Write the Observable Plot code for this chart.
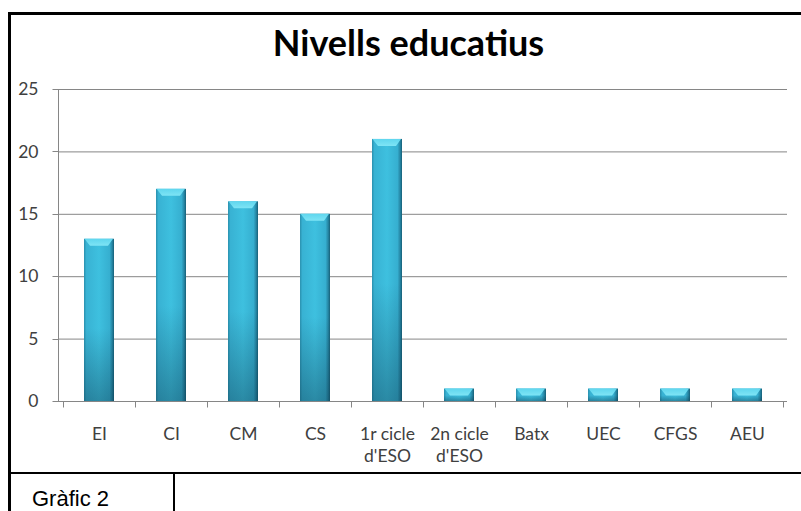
<!DOCTYPE html>
<html>
<head>
<meta charset="utf-8">
<script src="https://cdn.jsdelivr.net/npm/d3@7"></script>
<script src="https://cdn.jsdelivr.net/npm/@observablehq/plot@0.6"></script>
<style>
  body { margin: 0; background: #fff; }
  #wrap { position: relative; width: 801px; height: 511px; overflow: hidden; background: #fff; }
  #frame { position: absolute; left: 8px; top: 12px; width: 830px; height: 462px; box-sizing: border-box;
           border-left: 3px solid #000; border-top: 3px solid #000; border-bottom: 2px solid #000; }
  #capbox { position: absolute; left: 8px; top: 472px; width: 167px; height: 60px; box-sizing: border-box;
            border-left: 3px solid #000; border-right: 2px solid #000; }
  #caption { position: absolute; left: 32px; top: 488px; font: 22px "Liberation Sans", Arial, sans-serif; color: #000; line-height: 1; }
  #title { position: absolute; left: 8px; width: 801px; top: 24px; text-align: center;
           font: 700 36px Lato, "Open Sans", sans-serif; color: #000; line-height: 1; }
  #chart { position: absolute; left: 0; top: 0; }
</style>
</head>
<body>
<svg width="0" height="0" style="position:absolute">
  <defs>
    <linearGradient id="barH" x1="0" x2="1" y1="0" y2="0">
      <stop offset="0" stop-color="#2a90ae"/>
      <stop offset="0.08" stop-color="#38b2d3"/>
      <stop offset="0.5" stop-color="#3ec0df"/>
      <stop offset="0.85" stop-color="#36afd0"/>
      <stop offset="0.94" stop-color="#2585a3"/>
      <stop offset="1" stop-color="#175f77"/>
    </linearGradient>
    <linearGradient id="barV" x1="0" x2="0" y1="0" y2="1">
      <stop offset="0" stop-color="#0a3246" stop-opacity="0"/>
      <stop offset="0.55" stop-color="#0a3246" stop-opacity="0"/>
      <stop offset="1" stop-color="#0a3246" stop-opacity="0.38"/>
    </linearGradient>
    <linearGradient id="cap" x1="0" x2="0" y1="0" y2="1">
      <stop offset="0" stop-color="#5fd6ee"/>
      <stop offset="1" stop-color="#7ee4f5"/>
    </linearGradient>
  </defs>
</svg>
<div id="wrap">
  <div id="frame"></div>
  <div id="capbox"></div>
  <div id="caption">Gràfic 2</div>
  <div id="title">Nivells educatius</div>
  <div id="chart"></div>
</div>
<script>
const categories = ["EI", "CI", "CM", "CS", "1r cicle d'ESO", "2n cicle d'ESO", "Batx", "UEC", "CFGS", "AEU"];
const values = [13, 17, 16, 15, 21, 1, 1, 1, 1, 1];
const yTicks = [0, 5, 10, 15, 20, 25];

const data = categories.map((c, i) => ({cat: c, value: values[i]}));
const axisGray = "#868686";
const crisp = v => Math.round(v) + 0.5;

function axes(index, scales, vals, dims) {
  const {x, y} = scales;
  const g = d3.create("svg:g").attr("stroke", axisGray).attr("stroke-width", 1).attr("fill", "none");
  const left = crisp(dims.marginLeft);
  const y0 = crisp(y(0));
  g.append("line").attr("x1", left).attr("x2", left).attr("y1", crisp(y(yTicks[yTicks.length - 1]))).attr("y2", y0);
  for (const t of yTicks) {
    g.append("line").attr("x1", left - 6).attr("x2", left).attr("y1", crisp(y(t))).attr("y2", crisp(y(t)));
  }
  const step = x.step(), bw = x.bandwidth();
  const bounds = categories.map(c => x(c) + bw / 2 - step / 2);
  bounds.push(x(categories[categories.length - 1]) + bw / 2 + step / 2);
  for (const b of bounds) {
    g.append("line").attr("x1", crisp(b)).attr("x2", crisp(b)).attr("y1", y0).attr("y2", y0 + 6);
  }
  return g.node();
}

function caps(index, scales) {
  const {x, y} = scales;
  const g = d3.create("svg:g");
  const bw = x.bandwidth();
  data.forEach(d => {
    const xl = x(d.cat), yt = y(d.value);
    const h = Math.min(7, (y(0) - yt) * 0.55);
    g.append("polygon")
      .attr("points", [[xl + 0.5, yt], [xl + bw - 1, yt], [xl + bw - 6, yt + h], [xl + 6, yt + h]].map(p => p.join(",")).join(" "))
      .attr("fill", "url(#cap)");
  });
  return g.node();
}

const chart = Plot.plot({
  width: 801,
  height: 474,
  marginLeft: 58,
  marginRight: 14,
  marginTop: 89,
  marginBottom: 73,
  style: {fontFamily: "Lato, 'Open Sans', sans-serif", fontSize: "17.5px", color: "#404040", background: "transparent", overflow: "visible"},
  x: {domain: categories, paddingInner: 0.588, paddingOuter: 0.294, label: null},
  y: {domain: [0, 25], label: null},
  marks: [
    Plot.gridY(yTicks, {stroke: axisGray, strokeOpacity: 1}),
    Plot.barY(data, {x: "cat", y: "value", fill: "url(#barH)"}),
    Plot.barY(data, {x: "cat", y: "value", fill: "url(#barV)"}),
    caps,
    axes,
    Plot.axisY(yTicks, {tickSize: 0, tickPadding: 20, fill: "#404040", label: null}),
    Plot.axisX({tickSize: 0, tickPadding: 22, fill: "#404040", lineHeight: 1.3, label: null,
                tickFormat: d => d.replace(" d'ESO", "\nd'ESO")})
  ]
});
document.getElementById("chart").append(chart);
</script>
</body>
</html>
